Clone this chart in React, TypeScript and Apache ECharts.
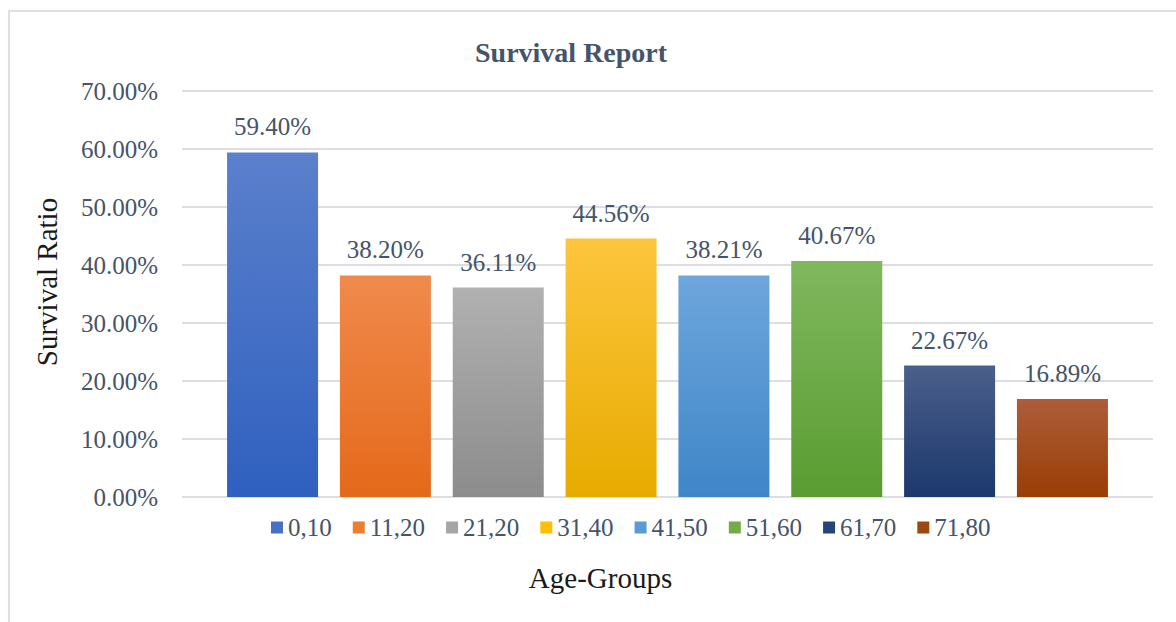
import React, { useEffect, useRef } from "react";
import * as echarts from "echarts";

// Age groups (one bar series each) and their survival ratios in percent
const groups = ["0,10", "11,20", "21,20", "31,40", "41,50", "51,60", "61,70", "71,80"];
const survival = [59.4, 38.2, 36.11, 44.56, 38.21, 40.67, 22.67, 16.89];

// Y axis range and step (percent)
const yMin = 0;
const yMax = 70;
const yStep = 10;

// Bar fills: [top, bottom] of each vertical gradient, plus a flat legend swatch
const gradientTops = ["#5b80cc", "#f08a4c", "#b1b1b1", "#fdc53e", "#6da6dc", "#80b85e", "#4b5f8b", "#ae5d3a"];
const gradientBottoms = ["#2f60bf", "#e4691a", "#8c8c8c", "#e7ab00", "#3f86c8", "#5a9c31", "#1c386d", "#993d04"];
const swatches = ["#4472c4", "#ed7d31", "#a5a5a5", "#ffc000", "#5b9bd5", "#70ad47", "#264478", "#9e480e"];

const FONT = "Liberation Serif";
const TEXT = "#44546a";
const GRIDLINE = "#dcdee4";

export default function App() {
  const ref = useRef<HTMLDivElement>(null);

  useEffect(() => {
    if (!ref.current) return;
    document.body.style.margin = "0";
    const chart = echarts.init(ref.current, null, { renderer: "svg" });

    const series = groups.map((name, i) => ({
      name,
      type: "bar",
      data: [survival[i]],
      barWidth: 91,
      barGap: "24%",
      itemStyle: {
        color: {
          type: "linear",
          x: 0,
          y: 0,
          x2: 0,
          y2: 1,
          colorStops: [
            { offset: 0, color: gradientTops[i] },
            { offset: 1, color: gradientBottoms[i] },
          ],
        },
      },
      label: {
        show: true,
        position: "top",
        distance: 13,
        formatter: (p: any) => `${Number(p.value).toFixed(2)}%`,
        fontFamily: FONT,
        fontSize: 25,
        color: TEXT,
      },
    }));

    chart.setOption({
      animation: false,
      title: {
        text: "Survival Report",
        left: 465,
        top: 26,
        padding: 0,
        textStyle: { fontFamily: FONT, fontSize: 28, fontWeight: "bold", color: TEXT },
      },
      legend: {
        left: 261,
        top: 503,
        padding: 0,
        itemWidth: 12,
        itemHeight: 12,
        itemGap: 21,
        icon: "rect",
        textStyle: { fontFamily: FONT, fontSize: 25, color: TEXT },
        data: groups.map((name, i) => ({ name, itemStyle: { color: swatches[i] } })),
      },
      grid: { left: 172, right: 23, top: 79, bottom: 125 },
      xAxis: {
        type: "category",
        data: [""],
        axisLine: { show: false },
        axisTick: { show: false },
        axisLabel: { show: false },
        name: "Age-Groups",
        nameLocation: "middle",
        nameGap: 66,
        nameTextStyle: { fontFamily: FONT, fontSize: 29, color: "#1a1a1a", padding: [0, 134, 0, 0] },
      },
      yAxis: {
        type: "value",
        min: yMin,
        max: yMax,
        interval: yStep,
        axisLine: { show: false },
        axisTick: { show: false },
        axisLabel: {
          margin: 24,
          fontFamily: FONT,
          fontSize: 25,
          color: TEXT,
          formatter: (v: number) => `${v.toFixed(2)}%`,
        },
        splitLine: { lineStyle: { color: GRIDLINE, width: 2 } },
        name: "Survival Ratio",
        nameLocation: "middle",
        nameGap: 121,
        nameTextStyle: { fontFamily: FONT, fontSize: 29, color: "#1a1a1a", padding: [0, 0, 0, 24] },
      },
      series,
    });

    return () => chart.dispose();
  }, []);

  // Light frame along the top and left of the chart panel
  return (
    <div style={{ width: 1176, height: 622, background: "#ffffff", position: "relative", overflow: "hidden" }}>
      <div
        style={{
          position: "absolute",
          left: 8,
          top: 10,
          width: 1168,
          height: 612,
          borderLeft: "2px solid #dcdfe7",
          borderTop: "2px solid #dcdfe7",
          boxSizing: "border-box",
        }}
      >
        <div ref={ref} style={{ width: 1166, height: 610 }} />
      </div>
    </div>
  );
}
